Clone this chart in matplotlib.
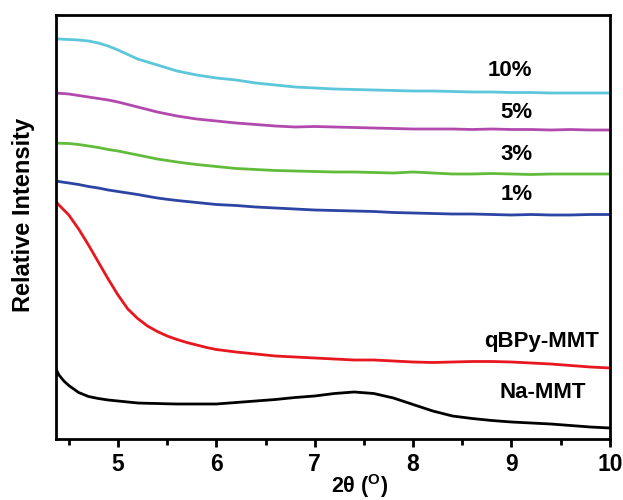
import matplotlib
matplotlib.use("Agg")
import matplotlib.pyplot as plt
from matplotlib.ticker import MultipleLocator

plt.rcParams['font.family'] = ['Liberation Sans', 'DejaVu Sans']
plt.rcParams['font.weight'] = 'bold'
plt.rcParams['mathtext.fontset'] = 'custom'
plt.rcParams['mathtext.rm'] = 'Liberation Sans:bold'
plt.rcParams['mathtext.bf'] = 'Liberation Sans:bold'

# 2theta grid (degrees)
two_theta = [4.37, 4.4, 4.45, 4.5, 4.6, 4.7, 4.8, 4.9, 5.0, 5.1, 5.2, 5.3, 5.4, 5.5,
             5.6, 5.7, 5.8, 5.9, 6.0, 6.2, 6.4, 6.6, 6.8, 7.0, 7.2, 7.4, 7.6, 7.8,
             8.0, 8.2, 8.4, 8.6, 8.8, 9.0, 9.2, 9.4, 9.6, 9.8, 10.0]

# relative intensities (offset curves, arbitrary units)
pct10 = [401, 401, 400.7, 400.5, 400, 399, 397, 394, 390, 385.5, 381, 378, 375, 372,
         369, 367, 365, 363.5, 362, 360, 357, 355, 353, 352, 351, 350.5, 350, 349.5,
         349, 349, 348.5, 348, 348, 347.5, 347.5, 347, 347, 347, 347]
pct5 = [347, 346.7, 346.4, 346, 344.5, 343, 341.5, 340, 338, 335.5, 333, 330.5, 328,
        326, 324, 322.5, 321, 320, 319, 317, 315.5, 314, 313, 313.5, 313, 312.5, 312,
        311.5, 311, 311, 311, 310.5, 311, 310.5, 310.5, 310, 310.5, 310, 310]
pct3 = [297, 296.8, 296.6, 296.5, 295.5, 294, 292.5, 290.5, 289, 287, 285, 283, 281,
        279.5, 278, 276.7, 275.5, 274.5, 273.5, 271.5, 270.5, 269.5, 269, 268.5, 268,
        268, 267.5, 267, 268, 267, 266, 266, 266.5, 266, 265.5, 266, 266, 266, 266]
pct1 = [259, 258.5, 257.7, 257, 255.5, 253.5, 252, 250, 248.5, 247, 245.5, 243.7, 242,
        240.7, 239.5, 238.5, 237.5, 236.5, 235.5, 234.5, 233, 232, 231, 230, 229.5,
        229, 228.5, 227.5, 227, 226.5, 226, 226, 225.5, 225, 225.5, 225, 225, 225.5,
        225.5]
qbpy = [238, 235, 230, 225, 211, 195, 178, 161, 145, 131, 121.5, 114, 108.5, 104,
        100.5, 97.5, 95, 92.5, 90.5, 88, 86, 84, 83, 82, 81, 80, 80, 79, 78, 77.5, 78,
        78.5, 78.5, 78, 77, 76, 74.5, 73, 72]
na_mmt = [71, 65, 59, 54.5, 47.5, 43.5, 41.5, 40, 39, 38, 37, 36.7, 36.5, 36.2, 36, 36,
          36, 36, 36, 37.5, 39, 40.5, 42.5, 44, 46.5, 48, 46.5, 42, 35.5, 29, 24, 21.5,
          19.5, 18, 17, 16, 14.5, 13, 12]

fig = plt.figure(figsize=(6.23, 5.0), dpi=100)
ax = fig.add_axes([0.0899, 0.122, 0.889, 0.848])

lw = 2.0
ax.plot(two_theta, pct10, color='#5cc6da', lw=lw)
ax.plot(two_theta, pct5, color='#b24aae', lw=lw)
ax.plot(two_theta, pct3, color='#62bc3c', lw=lw)
ax.plot(two_theta, pct1, color='#2c44a2', lw=lw)
ax.plot(two_theta, qbpy, color='#e8161e', lw=lw)
ax.plot(two_theta, na_mmt, color='black', lw=lw)

fs = 16
ax.text(8.98, 369, '10%', fontsize=fs, fontweight='bold', ha='center', va='center')
ax.text(9.05, 328, '5%', fontsize=fs, fontweight='bold', ha='center', va='center')
ax.text(9.05, 286, '3%', fontsize=fs, fontweight='bold', ha='center', va='center')
ax.text(9.05, 246, '1%', fontsize=fs, fontweight='bold', ha='center', va='center')
ax.text(9.31, 98, 'qBPy-MMT', fontsize=fs, fontweight='bold', ha='center', va='center')
ax.text(9.32, 48, 'Na-MMT', fontsize=fs, fontweight='bold', ha='center', va='center')

ax.set_xlim(4.37, 10.0)
ax.set_ylim(1, 425)
ax.xaxis.set_major_locator(MultipleLocator(1))
ax.xaxis.set_minor_locator(MultipleLocator(0.5))
ax.tick_params(axis='x', which='major', direction='out', length=6, width=2,
               labelsize=16.5, pad=4)
ax.tick_params(axis='x', which='minor', direction='out', length=4, width=2)
ax.tick_params(axis='y', left=False, labelleft=False)
for lab in ax.get_xticklabels():
    lab.set_fontweight('bold')
for sp in ax.spines.values():
    sp.set_linewidth(2)

ax.set_xlabel('2θ ($^{\\mathbf{O}}$)', fontsize=15.5, fontweight='bold')
ax.xaxis.set_label_coords(0.549, -0.077, transform=ax.transAxes)
ax.xaxis.label.set_va('top')
ax.set_ylabel('Relative Intensity', fontsize=17, fontweight='bold')
ax.yaxis.set_label_coords(-0.038, 0.528)

fig.savefig('out.png', dpi=100)
